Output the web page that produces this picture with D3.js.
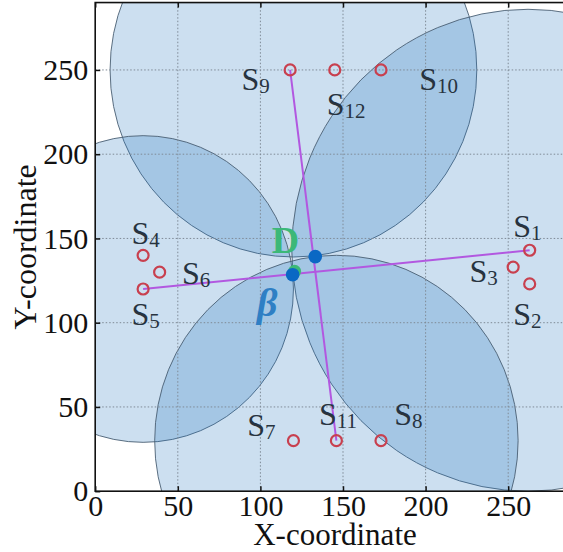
<!DOCTYPE html>
<html>
<head>
<meta charset="utf-8">
<script src="https://cdn.jsdelivr.net/npm/d3@7"></script>
<style>
body { margin: 0; background: #fff; }
text { font-family: "Liberation Serif", "Times New Roman", serif; }
</style>
</head>
<body>
<script>
// sensors (red open circles)
const sensorNames = ["1", "2", "3", "4", "5", "6", "7", "8", "9", "10", "11", "12"];
const sensorX = [263, 263, 253, 29, 29, 39, 120, 173, 118, 173, 146, 145];
const sensorY = [143, 123, 133, 140, 120, 130, 30, 30, 250, 250, 30, 250];

// where each S label sits (left of the S, on its baseline), data units
const labelX = [253, 253, 226.5, 22, 22, 52.5, 92, 181, 88.6, 196.2, 135.4, 140.2];
const labelY = [151, 98.6, 124.2, 147, 98.6, 123.2, 32.8, 39, 238.2, 238.2, 39, 223.3];

// coverage circles: centre + radius
const circleX = [120, 262, 29, 146];
const circleY = [250, 143, 120, 30];
const circleR = [111, 143, 91, 110];

// purple lines between sensor pairs (index into sensors)
const lineFrom = [8, 4];
const lineTo = [10, 0];

// estimated points
const dotNames = ["D", "β"];
const dotX = [133.2, 119.5];
const dotY = [139.2, 128.5];
const dotLabelX = [106.8, 98];
const dotLabelY = [141.2, 104];

const xTicks = [0, 50, 100, 150, 200, 250];
const yTicks = [0, 50, 100, 150, 200, 250];

const W = 563, H = 552;
const svg = d3.select("body").append("svg")
    .attr("width", W)
    .attr("height", H);

const x = d3.scaleLinear([0, 290], [95.2, 95.2 + 290 * 1.652]);
const y = d3.scaleLinear([0, 290], [491.2, 491.2 - 290 * 1.685]);

svg.append("clipPath").attr("id", "plot")
    .append("rect")
    .attr("x", x(0)).attr("y", y(290))
    .attr("width", x(290) - x(0)).attr("height", y(0) - y(290));

const plot = svg.append("g").attr("clip-path", "url(#plot)");

// circles
plot.append("g")
    .selectAll("ellipse")
    .data(circleX)
    .enter()
    .append("ellipse")
    .attr("cx", (d, i) => x(circleX[i]))
    .attr("cy", (d, i) => y(circleY[i]))
    .attr("rx", (d, i) => x(circleR[i]) - x(0))
    .attr("ry", (d, i) => y(0) - y(circleR[i]))
    .attr("fill", "rgb(36,117,192)")
    .attr("fill-opacity", 0.23)
    .attr("stroke", "#4a5f73")
    .attr("stroke-width", 0.9);

// grid
plot.append("g")
    .selectAll("line")
    .data(xTicks.slice(1))
    .enter()
    .append("line")
    .attr("x1", d => x(d)).attr("x2", d => x(d))
    .attr("y1", y(0)).attr("y2", y(290))
    .attr("stroke", "#7f8a96").attr("stroke-width", 1)
    .attr("stroke-dasharray", "1.5,2");
plot.append("g")
    .selectAll("line")
    .data(yTicks.slice(1))
    .enter()
    .append("line")
    .attr("y1", d => y(d)).attr("y2", d => y(d))
    .attr("x1", x(0)).attr("x2", x(290))
    .attr("stroke", "#7f8a96").attr("stroke-width", 1)
    .attr("stroke-dasharray", "1.5,2");

// purple lines
plot.append("g")
    .selectAll("line")
    .data(lineFrom)
    .enter()
    .append("line")
    .attr("x1", (d, i) => x(sensorX[lineFrom[i]]))
    .attr("y1", (d, i) => y(sensorY[lineFrom[i]]))
    .attr("x2", (d, i) => x(sensorX[lineTo[i]]))
    .attr("y2", (d, i) => y(sensorY[lineTo[i]]))
    .attr("stroke", "#b258e0")
    .attr("stroke-width", 2);

// sensors
plot.append("g")
    .selectAll("circle")
    .data(sensorX)
    .enter()
    .append("circle")
    .attr("cx", (d, i) => x(sensorX[i]))
    .attr("cy", (d, i) => y(sensorY[i]))
    .attr("r", 5.5)
    .attr("fill", "none")
    .attr("stroke", "#c8404f")
    .attr("stroke-width", 2.2);

// little green mark hidden behind beta
plot.append("circle")
    .attr("cx", x(dotX[1] + 1.2))
    .attr("cy", y(dotY[1] + 2))
    .attr("r", 6.5)
    .attr("fill", "#3cb878");

// D / beta labels
plot.append("text")
    .attr("x", x(dotLabelX[0])).attr("y", y(dotLabelY[0]))
    .attr("font-size", 38).attr("font-weight", "bold")
    .attr("fill", "#3cb878")
    .text(dotNames[0]);
plot.append("text")
    .attr("x", x(dotLabelX[1])).attr("y", y(dotLabelY[1]))
    .attr("font-size", 40).attr("font-weight", "bold").attr("font-style", "italic")
    .attr("fill", "#2f7fc4")
    .text(dotNames[1]);

// blue dots
plot.append("g")
    .selectAll("circle")
    .data(dotX)
    .enter()
    .append("circle")
    .attr("cx", (d, i) => x(dotX[i]))
    .attr("cy", (d, i) => y(dotY[i]))
    .attr("r", 6.8)
    .attr("fill", "#0a68c4");

// S labels with subscripts
const lab = plot.append("g")
    .selectAll("text")
    .data(sensorNames)
    .enter()
    .append("text")
    .attr("x", (d, i) => x(labelX[i]))
    .attr("y", (d, i) => y(labelY[i]))
    .attr("fill", "#27333f")
    .attr("font-size", 32);
lab.append("tspan").text("S");
lab.append("tspan").attr("font-size", 21).attr("dy", 3).text(d => d);

// axes
const xAxis = svg.append("g")
    .attr("transform", `translate(0, ${y(0)})`)
    .call(d3.axisBottom(x).tickValues(xTicks).tickSizeInner(-5).tickSizeOuter(0).tickPadding(3));
const yAxis = svg.append("g")
    .attr("transform", `translate(${x(0)}, 0)`)
    .call(d3.axisLeft(y).tickValues(yTicks).tickSizeInner(-5).tickSizeOuter(0).tickPadding(7));
const topAxis = svg.append("g")
    .attr("transform", `translate(0, ${y(290)})`)
    .call(d3.axisTop(x).tickValues(xTicks).tickSizeInner(-5).tickSizeOuter(0).tickFormat(""));

for (let ax of [xAxis, yAxis, topAxis]) {
    ax.select(".domain").remove();
    ax.selectAll("line").attr("stroke", "#111").attr("stroke-width", 1.5);
    ax.selectAll("text").attr("font-family", "Liberation Serif").attr("font-size", 30).attr("fill", "#111");
}

// frame
svg.append("rect")
    .attr("x", x(0)).attr("y", y(290))
    .attr("width", x(290) - x(0)).attr("height", y(0) - y(290))
    .attr("fill", "none")
    .attr("stroke", "#111")
    .attr("stroke-width", 1.6);

svg.append("text")
    .attr("x", 335).attr("y", 545)
    .attr("text-anchor", "middle")
    .attr("font-size", 31).attr("fill", "#111")
    .text("X-coordinate");
svg.append("text")
    .attr("transform", `translate(36, ${y(145)}) rotate(-90)`)
    .attr("text-anchor", "middle")
    .attr("font-size", 32).attr("fill", "#111")
    .text("Y-coordinate");
</script>
</body>
</html>
